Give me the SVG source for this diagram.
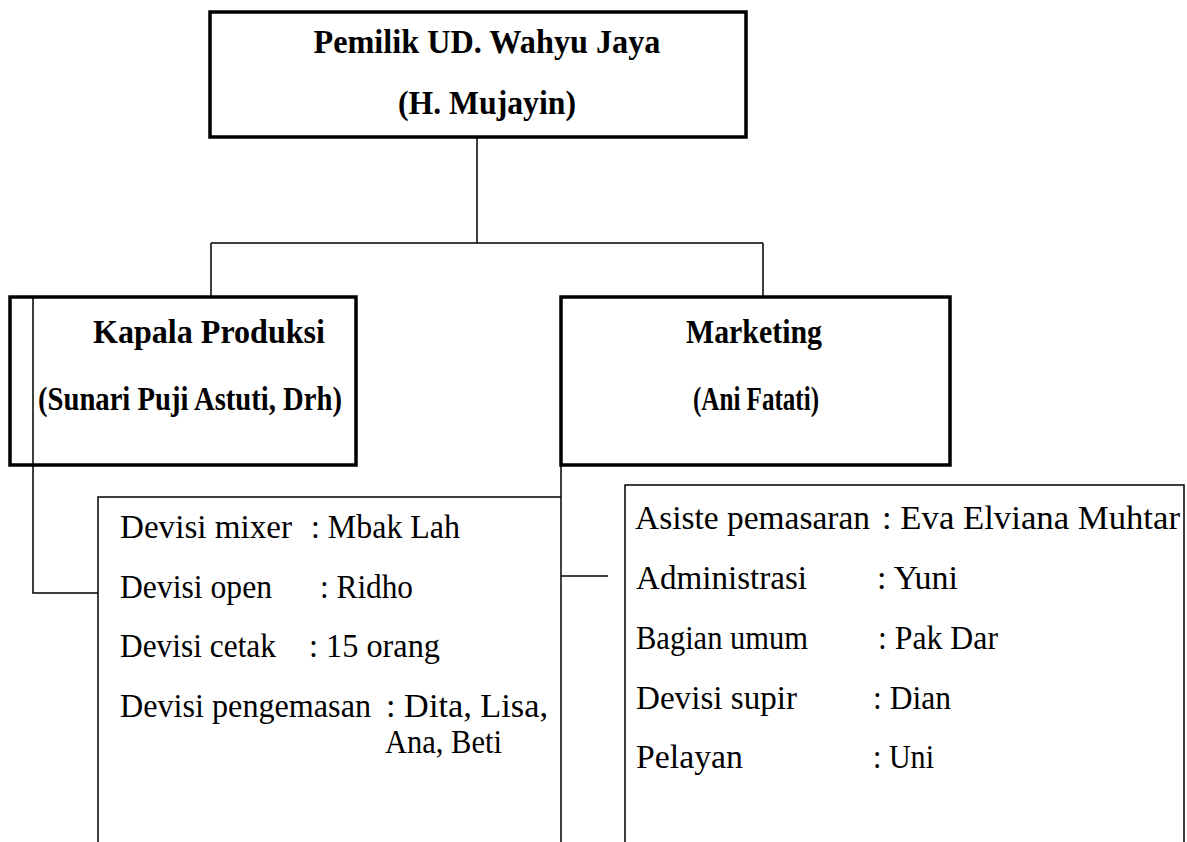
<svg xmlns="http://www.w3.org/2000/svg" width="1187" height="842" viewBox="0 0 1187 842">
<style>
.box{fill:none;stroke:#000;stroke-width:3.5}
.sub{fill:none;stroke:#000;stroke-width:1.5}
.ln{fill:none;stroke:#000;stroke-width:1.5}
.h{font-family:"Liberation Serif","Times New Roman",serif;font-weight:bold;font-size:34px;fill:#000}
.b{font-family:"Liberation Serif","Times New Roman",serif;font-size:34px;fill:#000}
</style>
<rect width="1187" height="842" fill="#fff"/>
<g id="connectors">
<line class="ln" x1="477" y1="137" x2="477" y2="243"/>
<line class="ln" x1="211" y1="243" x2="763" y2="243"/>
<line class="ln" x1="211" y1="243" x2="211" y2="297"/>
<line class="ln" x1="763" y1="243" x2="763" y2="297"/>
<polyline class="ln" points="33,297 33,593 98,593"/>
<line class="ln" x1="561" y1="465" x2="561" y2="842"/>
<line class="ln" x1="561" y1="576" x2="608" y2="576"/>
</g>
<g id="owner">
<rect class="box" x="210" y="12" width="536" height="125"/>
<text class="h" x="487" y="53" text-anchor="middle" textLength="347" lengthAdjust="spacingAndGlyphs">Pemilik UD. Wahyu Jaya</text>
<text class="h" x="487" y="114" text-anchor="middle" textLength="178" lengthAdjust="spacingAndGlyphs">(H. Mujayin)</text>
</g>
<g id="produksi">
<rect class="box" x="10" y="297" width="346" height="168"/>
<text class="h" x="209" y="343" text-anchor="middle" textLength="232" lengthAdjust="spacingAndGlyphs">Kapala Produksi</text>
<text class="h" x="190" y="410" text-anchor="middle" textLength="304" lengthAdjust="spacingAndGlyphs">(Sunari Puji Astuti, Drh)</text>
</g>
<g id="marketing">
<rect class="box" x="561" y="297" width="389" height="168"/>
<text class="h" x="754" y="343" text-anchor="middle" textLength="136" lengthAdjust="spacingAndGlyphs">Marketing</text>
<text class="h" x="756" y="410" text-anchor="middle" textLength="126" lengthAdjust="spacingAndGlyphs">(Ani Fatati)</text>
</g>
<g id="produksi-staff">
<path class="sub" d="M98,842 V497 H561"/>
<text class="b" y="538"><tspan x="120" textLength="172" lengthAdjust="spacingAndGlyphs">Devisi mixer</tspan><tspan x="311" textLength="149" lengthAdjust="spacingAndGlyphs">: Mbak Lah</tspan></text>
<text class="b" y="598"><tspan x="120" textLength="152" lengthAdjust="spacingAndGlyphs">Devisi open</tspan><tspan x="320" textLength="93" lengthAdjust="spacingAndGlyphs">: Ridho</tspan></text>
<text class="b" y="657"><tspan x="120" textLength="156" lengthAdjust="spacingAndGlyphs">Devisi cetak</tspan><tspan x="309" textLength="131" lengthAdjust="spacingAndGlyphs">: 15 orang</tspan></text>
<text class="b" y="717"><tspan x="120" textLength="251" lengthAdjust="spacingAndGlyphs">Devisi pengemasan</tspan><tspan x="386" textLength="162" lengthAdjust="spacingAndGlyphs">: Dita, Lisa,</tspan></text>
<text class="b" x="385" y="753" textLength="117" lengthAdjust="spacingAndGlyphs">Ana, Beti</text>
</g>
<g id="marketing-staff">
<path class="sub" d="M625,842 V485 H1184 V842"/>
<text class="b" y="529"><tspan x="635" textLength="235" lengthAdjust="spacingAndGlyphs">Asiste pemasaran</tspan><tspan x="882" textLength="298" lengthAdjust="spacingAndGlyphs">: Eva Elviana Muhtar</tspan></text>
<text class="b" y="589"><tspan x="636" textLength="171" lengthAdjust="spacingAndGlyphs">Administrasi</tspan><tspan x="877" textLength="81" lengthAdjust="spacingAndGlyphs">: Yuni</tspan></text>
<text class="b" y="649"><tspan x="636" textLength="172" lengthAdjust="spacingAndGlyphs">Bagian umum</tspan><tspan x="878" textLength="120" lengthAdjust="spacingAndGlyphs">: Pak Dar</tspan></text>
<text class="b" y="709"><tspan x="636" textLength="161" lengthAdjust="spacingAndGlyphs">Devisi supir</tspan><tspan x="873" textLength="78" lengthAdjust="spacingAndGlyphs">: Dian</tspan></text>
<text class="b" y="768"><tspan x="636" textLength="107" lengthAdjust="spacingAndGlyphs">Pelayan</tspan><tspan x="873" textLength="61" lengthAdjust="spacingAndGlyphs">: Uni</tspan></text>
</g>
</svg>
